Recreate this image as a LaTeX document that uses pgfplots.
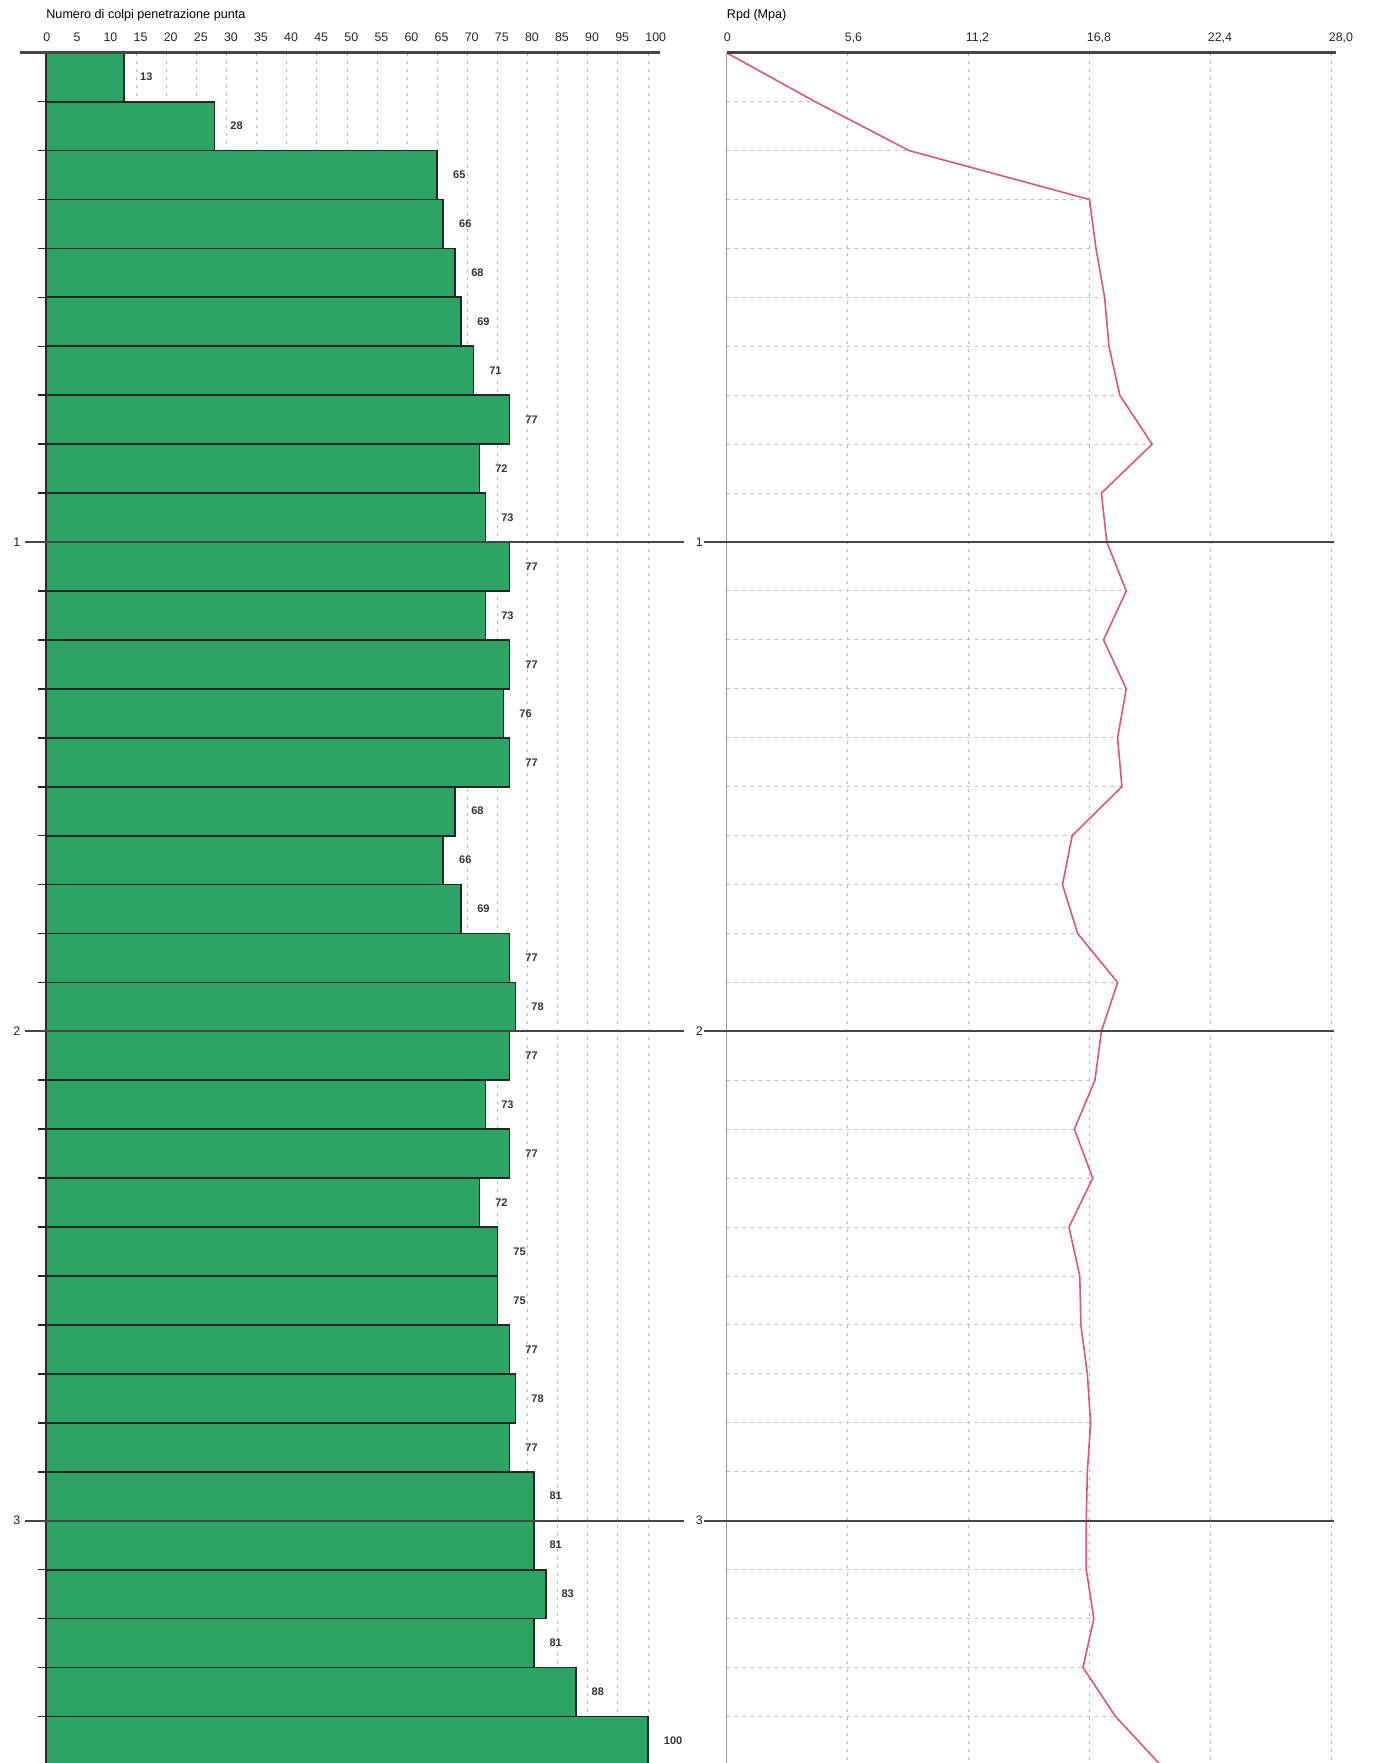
\documentclass[border=0pt]{standalone}
\usepackage{fontspec}
\setmainfont{Liberation Sans}
\usepackage{pgfplots}
\usepackage{pgfplotstable}
\pgfplotsset{compat=1.18}

\definecolor{barG}{RGB}{44,164,100}
\definecolor{rpdC}{RGB}{222,84,128}
\definecolor{gridC}{RGB}{185,185,185}
\definecolor{lineC}{RGB}{70,70,70}

% colpi per ogni tratto di 10 cm (z = centro del tratto, m)
\pgfplotstableread{
z    N
0.05 13
0.15 28
0.25 65
0.35 66
0.45 68
0.55 69
0.65 71
0.75 77
0.85 72
0.95 73
1.05 77
1.15 73
1.25 77
1.35 76
1.45 77
1.55 68
1.65 66
1.75 69
1.85 77
1.95 78
2.05 77
2.15 73
2.25 77
2.35 72
2.45 75
2.55 75
2.65 77
2.75 78
2.85 77
2.95 81
3.05 81
3.15 83
3.25 81
3.35 88
3.45 100
}\colpi

% resistenza dinamica Rpd (MPa) a fine tratto
\pgfplotstableread{
z   Rpd
0.0 0
0.1 4.1
0.2 8.45
0.3 16.8
0.4 17.1
0.5 17.5
0.6 17.7
0.7 18.2
0.8 19.7
0.9 17.35
1.0 17.6
1.1 18.5
1.2 17.45
1.3 18.5
1.4 18.1
1.5 18.3
1.6 16.0
1.7 15.55
1.8 16.25
1.9 18.1
2.0 17.35
2.1 17.05
2.2 16.1
2.3 16.95
2.4 15.85
2.5 16.35
2.6 16.4
2.7 16.7
2.8 16.85
2.9 16.7
3.0 16.65
3.1 16.65
3.2 17.0
3.3 16.5
3.4 18.0
3.5 20.1
}\rpd

\begin{document}
\begin{tikzpicture}
\useasboundingbox (0,0) rectangle (686pt,-881.5pt);

\pgfplotsset{
  prova/.style={
    scale only axis, height=856.3pt,
    ymin=0, ymax=3.5, y dir=reverse,
    clip=false,
    axis line style={draw=none},
    tick align=outside,
    major tick length=0pt,
    xticklabel pos=upper,
    ytick pos=left,
    xmajorgrids,
    major grid style={gridC, dash pattern=on 1.5pt off 2.5pt, line width=0.5pt},
    ytick={1,2,3},
    /pgf/number format/assume math mode=true,
    ticklabel style={font=\fontsize{6.2}{7}\selectfont, text=black!85},
    xticklabel style={anchor=base west, inner sep=0pt, xshift=-1.5pt, yshift=5.6pt},
  }
}

% ---- numero di colpi ----
\begin{axis}[prova,
  at={(23pt,-26.35pt)}, anchor=north west,
  width=301pt,
  xmin=0, xmax=100,
  xtick={0,5,...,100},
  minor ytick={0.1,0.2,...,3.45},
  minor tick length=4pt,
  minor tick style={black!85, line width=0.8pt},
  yticklabel style={anchor=east, inner sep=0pt, xshift=-12.7pt},
]
\addplot[xbar, bar width=0.1, fill=barG, draw=black!85, line width=0.9pt,
  point meta=x, nodes near coords, nodes near coords align={horizontal},
  nodes near coords style={anchor=west, inner sep=0pt, xshift=7.5pt,
    font=\bfseries\fontsize{5.5}{6}\selectfont, text=black!80}]
  table[x=N, y=z] {\colpi};
\draw[lineC, line width=1.3pt] (axis cs:-4.3,0) -- (axis cs:102,0);
\pgfplotsinvokeforeach{1,2,3}{
  \draw[lineC, line width=1pt] (axis cs:-3.5,#1) -- (axis cs:106,#1);
}
\node[anchor=base west, inner sep=0pt, yshift=17.3pt,
  font=\fontsize{6.3}{7}\selectfont] at (axis cs:0,0) {Numero di colpi penetrazione punta};
\end{axis}

% ---- Rpd ----
\begin{axis}[prova,
  at={(363.25pt,-26.35pt)}, anchor=north west,
  width=302.5pt,
  xmin=0, xmax=28,
  xtick={0,5.6,11.2,16.8,22.4,28},
  xticklabels={0,{5,6},{11,2},{16,8},{22,4},{28,0}},
  yticklabel style={anchor=east, inner sep=0pt, xshift=-11.7pt},
]
\addplot[xcomb, gridC, dash pattern=on 1.5pt off 2.5pt, line width=0.5pt]
  table[x=Rpd, y=z] {\rpd};
\draw[gridC!80!black, line width=0.6pt] (axis cs:0,0) -- (axis cs:0,3.5);
\addplot[rpdC, line width=0.8pt] table[x=Rpd, y=z] {\rpd};
\draw[lineC, line width=1.3pt] (axis cs:0,0) -- (axis cs:28.2,0);
\pgfplotsinvokeforeach{1,2,3}{
  \draw[lineC, line width=1pt] (axis cs:-1.04,#1) -- (axis cs:28.1,#1);
}
\node[anchor=base west, inner sep=0pt, yshift=17.3pt,
  font=\fontsize{6.3}{7}\selectfont] at (axis cs:0,0) {Rpd (Mpa)};
\end{axis}
\end{tikzpicture}
\end{document}
